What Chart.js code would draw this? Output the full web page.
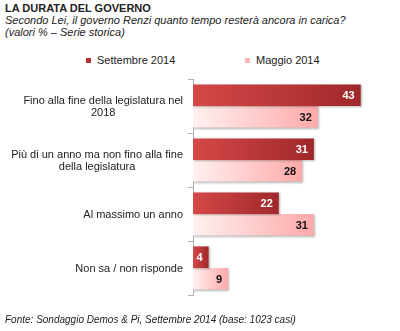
<!DOCTYPE html>
<html>
<head>
<meta charset="utf-8">
<script src="https://cdn.jsdelivr.net/npm/chart.js@4.4.1/dist/chart.umd.min.js"></script>
<style>
  body { margin: 0; background: #fff; font-family: "Liberation Sans", Arial, sans-serif; color: #222; }
  #wrap { position: relative; width: 400px; height: 331px; overflow: hidden; }
  #chart { position: absolute; left: 0; top: 0; }
  .t { position: absolute; left: 5px; white-space: nowrap; }
  #title { top: 2px; font-size: 11px; font-weight: bold; }
  #sub1 { top: 14px; font-size: 11px; font-style: italic; }
  #sub2 { top: 26px; font-size: 11px; font-style: italic; }
  #legend { position: absolute; top: 54px; left: 0; width: 400px; height: 14px; font-size: 11px; }
  .lg { position: absolute; top: 0; white-space: nowrap; }
  .lg i { display: inline-block; width: 5px; height: 5px; margin-right: 6px; vertical-align: 1px; }
  #foot { top: 314px; font-size: 10px; font-style: italic; }
</style>
</head>
<body>
<div id="wrap">
  <div class="t" id="title">LA DURATA DEL GOVERNO</div>
  <div class="t" id="sub1">Secondo Lei, il governo Renzi quanto tempo resterà ancora in carica?</div>
  <div class="t" id="sub2">(valori % – Serie storica)</div>
  <div id="legend"></div>
  <canvas id="chart" width="400" height="331"></canvas>
  <div class="t" id="foot">Fonte: Sondaggio Demos &amp; Pi, Settembre 2014 (base: 1023 casi)</div>
</div>
<script>
// Risposte (etichette su più righe)
const categories = [
    ['Fino alla fine della legislatura nel', '2018'],
    ['Più di un anno ma non fino alla fine', 'della legislatura'],
    ['Al massimo un anno'],
    ['Non sa / non risponde']
];
const seriesNames = ['Settembre 2014', 'Maggio 2014'];
const settembre = [43, 31, 22, 4];
const maggio = [32, 28, 31, 9];

// Gradient colours per series: [left, right]
const gradStops = [['#d44848', '#a0282a'], ['#fff0f0', '#ffa9a9']];
const swatch = ['#b83232', '#ffb8b8'];
const valueColor = ['#ffffff', '#111111'];

// Legend
const legend = document.getElementById('legend');
const legendX = [86, 245];
seriesNames.forEach((name, i) => {
    const el = document.createElement('span');
    el.className = 'lg';
    el.style.left = legendX[i] + 'px';
    el.innerHTML = '<i style="background:' + swatch[i] + '"></i>' + name;
    legend.appendChild(el);
});

function barGradient(ctx, s) {
    const chart = ctx.chart;
    if (!chart.chartArea || !chart.scales.x) return gradStops[s][1];
    const v = ctx.raw;
    const x0 = chart.scales.x.getPixelForValue(0);
    const x1 = chart.scales.x.getPixelForValue(v);
    const g = chart.ctx.createLinearGradient(x0, 0, Math.max(x1, x0 + 1), 0);
    g.addColorStop(0, gradStops[s][0]);
    g.addColorStop(1, gradStops[s][1]);
    return g;
}

// Soft shadow under the bars
const barShadow = {
    id: 'barShadow',
    beforeDatasetsDraw(chart) {
        const c = chart.ctx;
        c.save();
        c.shadowColor = 'rgba(0,0,0,0.28)';
        c.shadowBlur = 2;
        c.shadowOffsetX = 1;
        c.shadowOffsetY = 1;
    },
    afterDatasetsDraw(chart) {
        chart.ctx.restore();
    }
};

// Value labels inside the end of each bar
const valueLabels = {
    id: 'valueLabels',
    afterDatasetsDraw(chart) {
        const c = chart.ctx;
        c.save();
        c.font = 'bold 11px "Liberation Sans", Arial, sans-serif';
        c.textAlign = 'right';
        c.textBaseline = 'middle';
        chart.data.datasets.forEach((ds, s) => {
            chart.getDatasetMeta(s).data.forEach((bar, i) => {
                c.fillStyle = valueColor[s];
                c.fillText(String(ds.data[i]), bar.x - 6, bar.y + 1);
            });
        });
        c.restore();
    }
};

// Category labels: lines centred on each other, block right-aligned to the axis
const categoryLabels = {
    id: 'categoryLabels',
    afterDraw(chart) {
        const c = chart.ctx;
        const y = chart.scales.y;
        const right = y.right - 10;
        const lh = 12;
        c.save();
        c.font = '11px "Liberation Sans", Arial, sans-serif';
        c.fillStyle = '#222';
        c.textAlign = 'center';
        c.textBaseline = 'middle';
        categories.forEach((lines, i) => {
            const w = Math.max(...lines.map(l => c.measureText(l).width));
            const cx = right - w / 2;
            const cy = y.getPixelForTick(i) + 1;
            lines.forEach((l, k) => {
                c.fillText(l, cx, cy + (k - (lines.length - 1) / 2) * lh);
            });
        });
        c.restore();
    }
};

const chart = new Chart(document.getElementById('chart'), {
    type: 'bar',
    data: {
        labels: categories,
        datasets: [
            { label: seriesNames[0], data: settembre, backgroundColor: ctx => barGradient(ctx, 0) },
            { label: seriesNames[1], data: maggio, backgroundColor: ctx => barGradient(ctx, 1) }
        ]
    },
    options: {
        indexAxis: 'y',
        responsive: false,
        animation: false,
        layout: { padding: { top: 79, bottom: 36, right: 12, left: 0 } },
        datasets: { bar: { categoryPercentage: 0.8, barPercentage: 1 } },
        scales: {
            x: { display: false, min: 0, max: 50 },
            y: {
                afterFit: scale => { scale.width = 193; },
                ticks: { display: false },
                grid: { offset: true, drawOnChartArea: false, drawTicks: true, tickLength: 5, color: '#b0b0b0' },
                border: { display: true, color: '#b0b0b0' }
            }
        },
        plugins: { legend: { display: false }, tooltip: { enabled: false } }
    },
    plugins: [barShadow, valueLabels, categoryLabels]
});
</script>
</body>
</html>
